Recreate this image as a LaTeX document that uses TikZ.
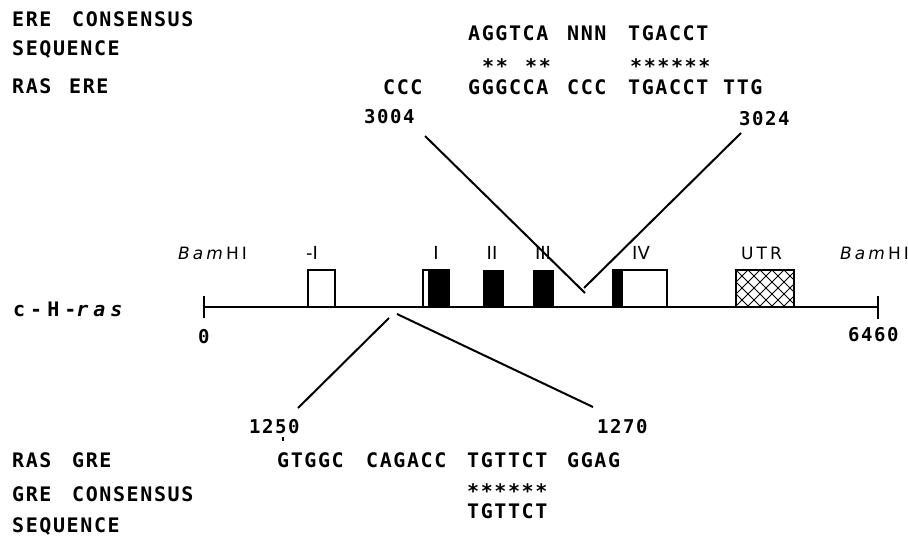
\documentclass[tikz,border=0pt]{standalone}
\usepackage{fontspec}
\newfontfamily\plotfont[LetterSpace=8]{DejaVu Sans Mono}
\newfontfamily\widefont[LetterSpace=25]{DejaVu Sans Mono}
\newfontfamily\labfont{DejaVu Sans}
\newfontfamily\spacedfont[LetterSpace=18]{DejaVu Sans}
\tikzset{
  seq/.style={anchor=base west, inner sep=0pt, font=\plotfont\bfseries\fontsize{20}{24}\selectfont},
  num/.style={anchor=base west, inner sep=0pt, font=\plotfont\bfseries\fontsize{19}{22}\selectfont},
  genelab/.style={anchor=base, inner sep=0pt, font=\labfont\fontsize{18}{20}\selectfont},
  spacedlab/.style={anchor=base west, inner sep=0pt, font=\spacedfont\fontsize{17}{20}\selectfont},
  link/.style={line width=2pt},
  exonbox/.style={draw, line width=1.6pt, fill=white},
  solid exon/.style={fill=black},
  hatch/.style={line width=0.9pt}
}
\begin{document}
\begin{tikzpicture}[x=1pt,y=-1pt]
\useasboundingbox (0,0) rectangle (908,543);

% ---- ERE block (top) ----
\node[seq] (ereA) at (12,27) {ERE};
\node[seq] (ereB) at (72,27) {CONSENSUS};
\node[seq] (ereC) at (12,56) {SEQUENCE};
\node[seq] (rasA) at (12,94) {RAS};
\node[seq] (rasB) at (69,94) {ERE};

\node[seq] (cons1) at (468,41) {AGGTCA};
\node[seq] (cons2) at (567,41) {NNN};
\node[seq] (cons3) at (628,41) {TGACCT};

\node[seq] (st1) at (482,74) {**};
\node[seq] (st2) at (525,74) {**};
\node[seq] (st3) at (630,74) {******};

\node[seq] (rs1) at (383,95) {CCC};
\node[seq] (rs2) at (468,95) {GGGCCA};
\node[seq] (rs3) at (567,95) {CCC};
\node[seq] (rs4) at (628,95) {TGACCT};
\node[seq] (rs5) at (723,95) {TTG};

\node[num] (p3004) at (364,124) {3004};
\node[num] (p3024) at (739,125) {3024};

% ---- gene map ----
\node[anchor=base west, inner sep=0pt, font=\widefont\bfseries\fontsize{20}{24}\selectfont] (gene)
  at (13,316) {c-H-\textit{ras}};

\node[spacedlab] (bamL) at (178,259) {\textit{Bam}HI};
\node[genelab] (exm1) at (312,259) {-I};
\node[genelab] (ex1) at (436,259) {I};
\node[genelab] (ex2) at (492,259) {II};
\node[genelab] (ex3) at (543,259) {III};
\node[genelab] (ex4) at (641,259) {IV};
\node[spacedlab] (utr) at (741,259) {UTR};
\node[spacedlab] (bamR) at (840,259) {\textit{Bam}HI};

\coordinate (g0) at (204,307);
\coordinate (g1) at (878,307);
\draw[line width=1.6pt] (g0) -- (g1);
\draw[line width=1.6pt] ([yshift=-11pt]g0) -- ([yshift=11pt]g0);
\draw[line width=1.6pt] ([yshift=-12pt]g1) -- ([yshift=11pt]g1);

\node[num] (n0) at (198,343) {0};
\node[num] (n6460) at (848,341) {6460};

% exons
\draw[exonbox] (308,270) rectangle (335,307);
\draw[exonbox] (423,270) rectangle (449,307);
\fill[solid exon] (428,270) rectangle (449,307);
\fill[solid exon] (483,270) rectangle (504,307);
\fill[solid exon] (533,270) rectangle (554,307);
\draw[exonbox] (613,270) rectangle (667,307);
\fill[solid exon] (613,270) rectangle (623,307);

% untranslated region, cross-hatched
\begin{scope}
  \clip (736,270) rectangle (794,307);
  \foreach \k in {-48,-36,...,108} {
    \draw[hatch] (736+\k,270) -- ++(40,40);
    \draw[hatch] (736+\k,270) -- ++(-40,40);
  }
\end{scope}
\draw[line width=1.6pt] (736,270) rectangle (794,307);

% ERE call-out lines
\coordinate (ereL) at (425,136);
\coordinate (ereLg) at (585,293);
\coordinate (ereR) at (741,133);
\coordinate (ereRg) at (584,288);
\draw[link] (ereL) -- (ereLg);
\draw[link] (ereR) -- (ereRg);

% ---- GRE block (bottom) ----
\coordinate (greLg) at (389,318);
\coordinate (greL) at (298,408);
\coordinate (greRg) at (397,314);
\coordinate (greR) at (593,407);
\draw[link] (greLg) -- (greL);
\draw[link] (greRg) -- (greR);

\node[num] (p1250) at (249,433) {1250};
\node[num] (p1270) at (597,433) {1270};
\draw[line width=1.2pt] (283,437) -- (283,441);

\node[seq] (rgA) at (12,467) {RAS};
\node[seq] (rgB) at (72,467) {GRE};
\node[seq] (gs1) at (277,467) {GTGGC};
\node[seq] (gs2) at (366,467) {CAGACC};
\node[seq] (gs3) at (467,467) {TGTTCT};
\node[seq] (gs4) at (567,467) {GGAG};

\node[seq] (st4) at (467,498) {******};
\node[seq] (gc1) at (467,518) {TGTTCT};

\node[seq] (greA) at (12,501) {GRE};
\node[seq] (greB) at (72,501) {CONSENSUS};
\node[seq] (greC) at (12,532) {SEQUENCE};
\end{tikzpicture}
\end{document}
